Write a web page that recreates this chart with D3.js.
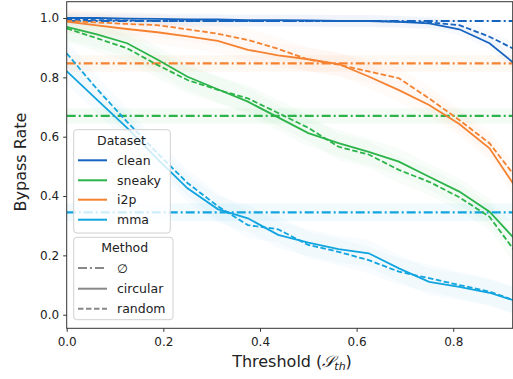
<!DOCTYPE html>
<html><head><meta charset="utf-8">
<script src="https://cdn.jsdelivr.net/npm/d3@7/dist/d3.min.js"></script>
<style>body{margin:0;background:#fff}svg{display:block;font-family:"DejaVu Sans",sans-serif}</style>
</head><body><svg id="c" width="513" height="379"></svg>
<script>
const thresholds = [0,0.0625,0.125,0.1875,0.25,0.3125,0.375,0.4375,0.5,0.5625,0.625,0.6875,0.75,0.8125,0.875,0.9375];
const datasets = ["clean","sneaky","i2p","mma"];
const colors = ["#1764bf","#2cb34a","#f58230","#12a4df"];
const cleanCircular  = [1.0,1.0,0.998,0.997,0.995,0.995,0.993,0.993,0.992,0.99,0.99,0.987,0.982,0.962,0.915,0.832];
const cleanRandom    = [0.995,0.993,0.992,0.99,0.99,0.99,0.99,0.99,0.99,0.99,0.99,0.988,0.985,0.976,0.937,0.886];
const sneakyCircular = [0.97,0.945,0.915,0.86,0.802,0.76,0.718,0.665,0.612,0.578,0.549,0.516,0.465,0.415,0.347,0.237];
const sneakyRandom   = [0.965,0.932,0.898,0.842,0.791,0.758,0.729,0.68,0.63,0.566,0.54,0.488,0.448,0.396,0.33,0.192];
const i2pCircular    = [0.988,0.975,0.963,0.952,0.938,0.923,0.893,0.874,0.861,0.845,0.803,0.757,0.707,0.643,0.561,0.409];
const i2pRandom      = [0.99,0.985,0.98,0.976,0.962,0.947,0.926,0.896,0.86,0.843,0.82,0.797,0.729,0.656,0.578,0.446];
const mmaCircular    = [0.821,0.725,0.63,0.525,0.426,0.356,0.325,0.269,0.243,0.221,0.207,0.156,0.111,0.094,0.074,0.042];
const mmaRandom      = [0.881,0.761,0.65,0.545,0.444,0.366,0.302,0.288,0.235,0.212,0.184,0.145,0.123,0.1,0.078,0.042];
const baselines   = [0.99,0.67,0.847,0.345];
const baselineStd = [0.004,0.026,0.028,0.03];
const curveStd    = [0.02,0.045,0.04,0.045];
const xTicks = [0,0.2,0.4,0.6,0.8];
const yTicks = [0,0.2,0.4,0.6,0.8,1.0];
const methods = ["∅","circular","random"];

const circ = [cleanCircular,sneakyCircular,i2pCircular,mmaCircular];
const rand = [cleanRandom,sneakyRandom,i2pRandom,mmaRandom];

const L=66.7,R=512.7,T=1.7,B=328.3;
const svg=d3.select("#c");
const x=d3.scaleLinear().domain([0,0.923]).range([L,R]);
const y=d3.scaleLinear().domain([-0.0458,1.055]).range([B,T]);

svg.append("defs").append("clipPath").attr("id","clip").append("rect")
  .attr("x",L).attr("y",T).attr("width",R-L).attr("height",B-T);
const g=svg.append("g").attr("clip-path","url(#clip)");

const line=d3.line().x((d,i)=>x(thresholds[i])).y(d=>y(d));
const area=(s)=>d3.area().x((d,i)=>x(thresholds[i])).y0(d=>y(d-s)).y1(d=>y(d+s));

// baseline bands
datasets.forEach((ds,i)=>{
  g.append("rect").attr("x",x(0)).attr("width",x(0.923)-x(0))
   .attr("y",y(baselines[i]+baselineStd[i])).attr("height",y(baselines[i]-baselineStd[i])-y(baselines[i]+baselineStd[i]))
   .attr("fill",colors[i]).attr("opacity",0.06);
});
// curve bands
datasets.forEach((ds,i)=>{
  [circ[i],rand[i]].forEach(arr=>{
    g.append("path").datum(arr).attr("d",area(curveStd[i])).attr("fill",colors[i]).attr("opacity",0.03);
  });
});
// baselines
datasets.forEach((ds,i)=>{
  g.append("line").attr("x1",x(0)).attr("x2",x(0.923)).attr("y1",y(baselines[i])).attr("y2",y(baselines[i]))
   .attr("stroke",colors[i]).attr("stroke-width",2.2).attr("stroke-dasharray","9,3,2,3");
});
// curves
datasets.forEach((ds,i)=>{
  g.append("path").datum(circ[i]).attr("d",line).attr("fill","none").attr("stroke",colors[i]).attr("stroke-width",1.8);
  g.append("path").datum(rand[i]).attr("d",line).attr("fill","none").attr("stroke",colors[i]).attr("stroke-width",1.8).attr("stroke-dasharray","5.5,2.5");
});

// axes
const ax=svg.append("g").attr("transform",`translate(0,${B})`)
  .call(d3.axisBottom(x).tickValues(xTicks).tickFormat(d3.format(".1f")).tickSize(3.5).tickPadding(6));
const ay=svg.append("g").attr("transform",`translate(${L},0)`)
  .call(d3.axisLeft(y).tickValues(yTicks).tickFormat(d3.format(".1f")).tickSize(3.5).tickPadding(4));
[ax,ay].forEach(a=>{a.select(".domain").remove();a.selectAll("text").attr("font-size",12).attr("font-family","DejaVu Sans").attr("fill","#222");a.selectAll("line").attr("stroke","#333");});
svg.append("rect").attr("x",L).attr("y",T).attr("width",R-L).attr("height",B-T).attr("fill","none").attr("stroke","#333").attr("stroke-width",1);

// labels
svg.append("text").attr("transform","translate(26,162) rotate(-90)").attr("text-anchor","middle")
  .attr("font-size",16).attr("fill","#222").text("Bypass Rate");
const xl=svg.append("text").attr("x",292).attr("y",367).attr("text-anchor","middle").attr("font-size",16).attr("fill","#222");
xl.append("tspan").text("Threshold (");
xl.append("tspan").attr("font-style","italic").attr("font-family","DejaVu Serif").text("𝒮");
xl.append("tspan").attr("font-size",11).attr("font-style","italic").attr("dy",3).text("th");
xl.append("tspan").attr("dy",-3).text(")");

// legends
function legendBox(x0,y0,w,h){
  svg.append("rect").attr("x",x0).attr("y",y0).attr("width",w).attr("height",h).attr("rx",3)
    .attr("fill","#fff").attr("fill-opacity",0.8).attr("stroke","#d0d0d0").attr("stroke-width",1);
}
legendBox(73.7,129.7,96.6,103.3);
svg.append("text").attr("x",121.5).attr("y",145).attr("text-anchor","middle").attr("font-size",12.5).attr("fill","#222").text("Dataset");
const dsY=[160.3,180.3,199.7,219.7];
datasets.forEach((ds,i)=>{
  svg.append("line").attr("x1",78).attr("x2",107).attr("y1",dsY[i]).attr("y2",dsY[i]).attr("stroke",colors[i]).attr("stroke-width",2);
  svg.append("text").attr("x",117).attr("y",dsY[i]+4.5).attr("font-size",12.5).attr("fill","#222").text(ds);
});
legendBox(73.7,237.3,99.3,82.4);
svg.append("text").attr("x",124.7).attr("y",251.5).attr("text-anchor","middle").attr("font-size",12.5).attr("fill","#222").text("Method");
const mY=[268,288.7,308.7];
const mDash=["9,3,2,3",null,"5.5,2.5"];
methods.forEach((m,i)=>{
  const l=svg.append("line").attr("x1",78).attr("x2",107).attr("y1",mY[i]).attr("y2",mY[i]).attr("stroke","#888").attr("stroke-width",2);
  if(mDash[i]) l.attr("stroke-dasharray",mDash[i]);
  svg.append("text").attr("x",117).attr("y",mY[i]+4.5).attr("font-size",12.5).attr("fill","#222").text(m);
});
</script></body></html>
